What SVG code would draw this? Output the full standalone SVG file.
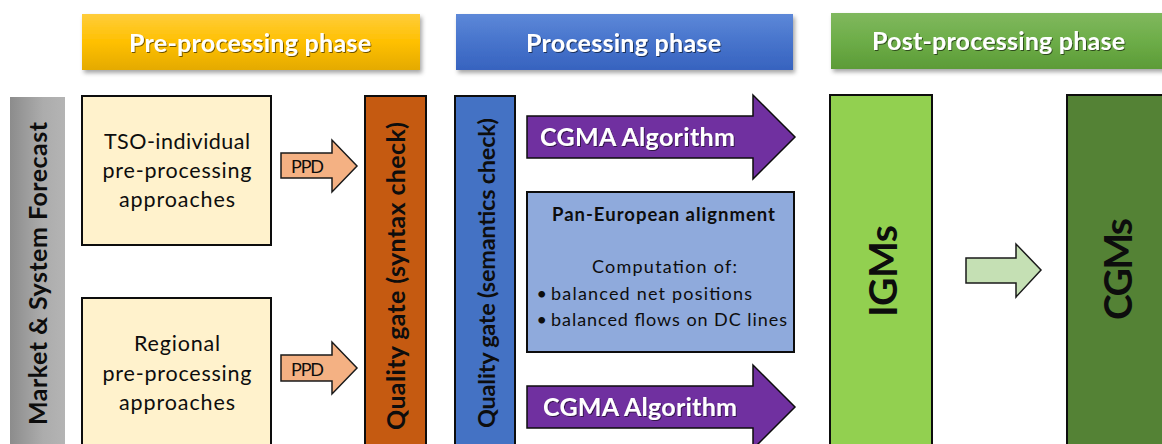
<svg xmlns="http://www.w3.org/2000/svg" width="1162" height="444" viewBox="0 0 1162 444">
<defs>
<linearGradient id="gPre" x1="0" y1="0" x2="0" y2="1"><stop offset="0" stop-color="#ffcd3c"/><stop offset="0.5" stop-color="#ffc000"/><stop offset="1" stop-color="#e4aa00"/></linearGradient>
<linearGradient id="gProc" x1="0" y1="0" x2="0" y2="1"><stop offset="0" stop-color="#5d88d8"/><stop offset="0.5" stop-color="#4774cc"/><stop offset="1" stop-color="#3763bf"/></linearGradient>
<linearGradient id="gPost" x1="0" y1="0" x2="0" y2="1"><stop offset="0" stop-color="#80b85e"/><stop offset="0.5" stop-color="#6dad48"/><stop offset="1" stop-color="#5c9b37"/></linearGradient>
<linearGradient id="gGray" x1="0" y1="0" x2="1" y2="0"><stop offset="0" stop-color="#8c8c8c"/><stop offset="0.6" stop-color="#acacac"/><stop offset="1" stop-color="#b4b4b4"/></linearGradient>
<filter id="hs" x="-5%" y="-10%" width="112%" height="130%"><feDropShadow dx="2" dy="3" stdDeviation="2" flood-color="#000" flood-opacity="0.35"/></filter>
<filter id="ts" x="-5%" y="-20%" width="110%" height="150%"><feDropShadow dx="1" dy="1" stdDeviation="0.7" flood-color="#000" flood-opacity="0.55"/></filter>
</defs>
<style>
.hdr{font-family:Lato,"Open Sans",sans-serif;font-weight:bold;font-size:25px;fill:#fff;text-anchor:middle}
.box{stroke:#0d0d0d;stroke-width:2}
.bt{font-family:Lato,"Open Sans",sans-serif;font-size:21.5px;fill:#0d0d0d;text-anchor:middle}
.vt{font-family:Lato,"Open Sans",sans-serif;font-weight:bold;font-size:25px;fill:#0d0d0d;text-anchor:middle}
.big{font-family:Lato,"Open Sans",sans-serif;font-weight:bold;font-size:39px;fill:#0d0d0d;text-anchor:middle}
.ppd{fill:#f4b183;stroke:#1a1a1a;stroke-width:1.5}
.ppdt{font-family:Lato,"Open Sans",sans-serif;font-size:18px;fill:#0d0d0d;text-anchor:middle}
.cg{fill:#7030a0;stroke:#0d0d0d;stroke-width:1.5}
.cgt{font-family:Lato,"Open Sans",sans-serif;font-weight:bold;font-size:25px;fill:#fff}
.pt{font-family:Lato,"Open Sans",sans-serif;font-size:18px;fill:#0d0d0d}
</style>

<g id="header-pre">
<rect x="82" y="14" width="338" height="56" fill="url(#gPre)" filter="url(#hs)"/>
<text class="hdr" x="250" y="52" textLength="242" filter="url(#ts)">Pre-processing phase</text>
</g>
<g id="header-proc">
<rect x="456" y="14" width="337" height="56" fill="url(#gProc)" filter="url(#hs)"/>
<text class="hdr" x="623.5" y="52" textLength="195" filter="url(#ts)">Processing phase</text>
</g>
<g id="header-post">
<rect x="831" y="13" width="340" height="56" fill="url(#gPost)" filter="url(#hs)"/>
<text class="hdr" x="998.5" y="50" textLength="253" filter="url(#ts)">Post-processing phase</text>
</g>

<g id="market">
<rect x="10" y="97" width="55" height="360" fill="url(#gGray)"/>
<text class="vt" transform="translate(47,273.5) rotate(-90)" x="0" y="0" textLength="303">Market &amp; System Forecast</text>
</g>

<g id="tso">
<rect class="box" x="82" y="96" width="189" height="149" fill="#fff2cc"/>
<text class="bt" x="177" y="149" textLength="146">TSO-individual</text>
<text class="bt" x="177" y="178" textLength="149">pre-processing</text>
<text class="bt" x="177" y="207" textLength="116">approaches</text>
</g>

<g id="regional">
<rect class="box" x="82" y="298" width="189" height="160" fill="#fff2cc"/>
<text class="bt" x="177" y="351" textLength="86">Regional</text>
<text class="bt" x="177" y="381" textLength="149">pre-processing</text>
<text class="bt" x="177" y="410" textLength="116">approaches</text>
</g>

<g id="syntax-gate">
<rect class="box" x="365" y="96" width="61" height="360" fill="#c55a11"/>
<text class="vt" transform="translate(405,276) rotate(-90)" x="0" y="0" textLength="308">Quality gate (syntax check)</text>
</g>

<g id="semantics-gate">
<rect class="box" x="455" y="96" width="60" height="360" fill="#4472c4"/>
<text class="vt" style="font-size:23.5px" transform="translate(495,273) rotate(-90)" x="0" y="0" textLength="310">Quality gate (semantics check)</text>
</g>

<g id="pan-european">
<rect class="box" x="527" y="192" width="267" height="160" fill="#8faadc"/>
<text class="pt" x="663.5" y="221" text-anchor="middle" font-weight="bold" style="font-size:18.5px" textLength="223">Pan-European alignment</text>
<text class="pt" x="664.5" y="273" text-anchor="middle" textLength="145">Computation of:</text>
<text class="pt" x="536.5" y="300">•</text>
<text class="pt" x="551" y="300" textLength="201">balanced net positions</text>
<text class="pt" x="536.5" y="326">•</text>
<text class="pt" x="551" y="326" textLength="236">balanced flows on DC lines</text>
</g>

<g id="igms">
<rect class="box" x="830" y="95" width="102" height="360" fill="#92d050"/>
<text class="big" transform="translate(897,271) rotate(-90)" x="0" y="0" textLength="92">IGMs</text>
</g>

<g id="cgms">
<rect class="box" x="1067" y="95" width="110" height="360" fill="#548235"/>
<text class="big" transform="translate(1132,269) rotate(-90)" x="0" y="0" textLength="102">CGMs</text>
</g>

<g id="connectors">
<g id="ppd-1">
<polygon class="ppd" points="281,153 332,153 332,140 357,166 332,192 332,178 281,178"/>
<text class="ppdt" x="307.5" y="173" textLength="33">PPD</text>
</g>
<g id="ppd-2">
<polygon class="ppd" points="281,355 332,355 332,342 357,368 332,394 332,381 281,381"/>
<text class="ppdt" x="307.5" y="376" textLength="33">PPD</text>
</g>
<g id="cgma-1">
<polygon class="cg" points="527,116 753,116 753,95 795,137 753,179 753,158 527,158"/>
<text class="cgt" x="540" y="146" textLength="195" filter="url(#ts)">CGMA Algorithm</text>
</g>
<g id="cgma-2">
<polygon class="cg" points="527,386 753,386 753,365 795,407 753,449 753,428 527,428"/>
<text class="cgt" x="543" y="416" textLength="194" filter="url(#ts)">CGMA Algorithm</text>
</g>
<g id="igm-to-cgm">
<polygon points="966,258 1016,258 1016,244 1041,270 1016,297 1016,283 966,283" fill="#c5e0b4" stroke="#1a1a1a" stroke-width="1.5"/>
</g>
</g>
</svg>
